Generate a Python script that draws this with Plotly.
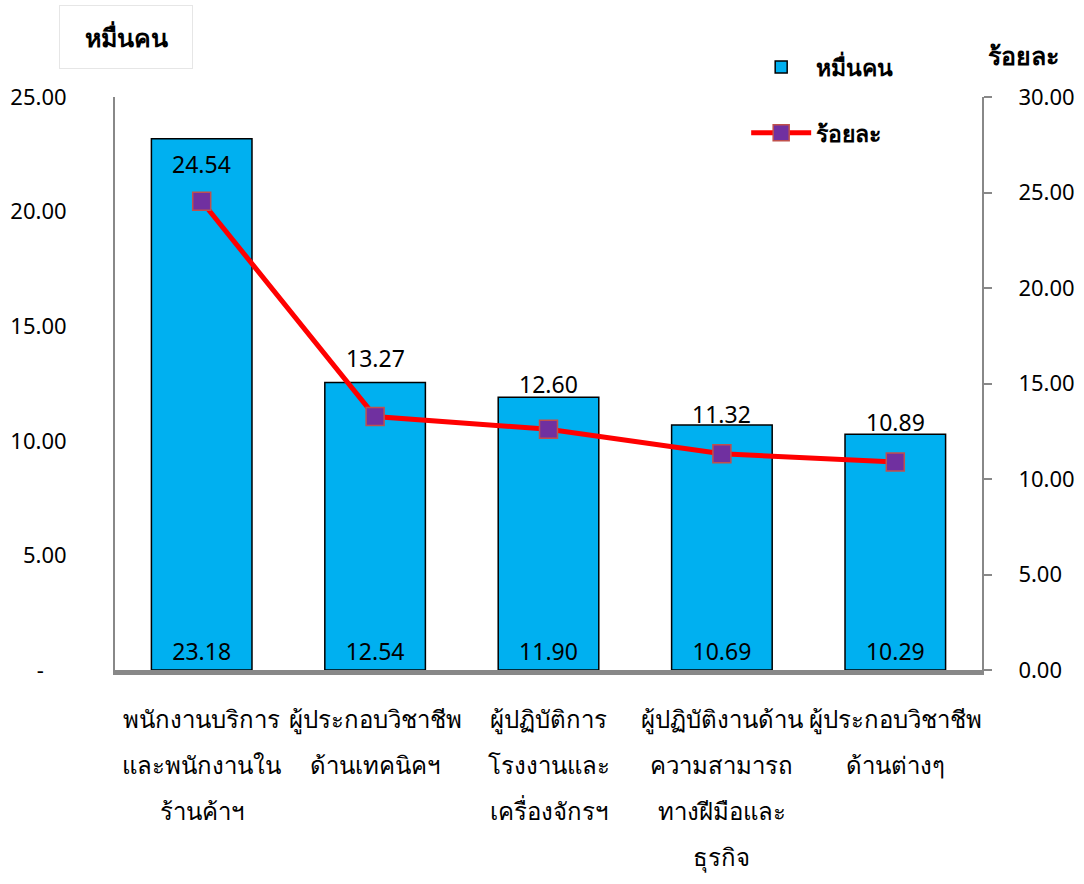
import plotly.graph_objects as go

categories = [
    "พนักงานบริการ|และพนักงานใน|ร้านค้าฯ",
    "ผู้ประกอบวิชาชีพ|ด้านเทคนิคฯ",
    "ผู้ปฏิบัติการ|โรงงานและ|เครื่องจักรฯ",
    "ผู้ปฏิบัติงานด้าน|ความสามารถ|ทางฝีมือและ|ธุรกิจ",
    "ผู้ประกอบวิชาชีพ|ด้านต่างๆ",
]
persons_10k = [23.18, 12.54, 11.90, 10.69, 10.29]
percent = [24.54, 13.27, 12.60, 11.32, 10.89]
left_ticks = [0, 5, 10, 15, 20, 25]
left_ticktext = ["-    ", "5.00", "10.00", "15.00", "20.00", "25.00"]
right_ticks = [0, 5, 10, 15, 20, 25, 30]
right_ticktext = ["0.00", "5.00", "10.00", "15.00", "20.00", "25.00", "30.00"]
pct_label_shift = [37, 59, 45, 40, 40]

x = list(range(len(categories)))
FONT = "Noto Sans, DejaVu Sans, sans-serif"

fig = go.Figure()
fig.add_trace(go.Bar(
    x=x, y=persons_10k, name="<b>หมื่นคน</b>", legendgroup="a",
    marker=dict(color="#00B0F0", line=dict(color="black", width=1.5)),
    width=0.58,
    text=[f"{v:.2f}" for v in persons_10k], textposition="inside",
    insidetextanchor="start", textfont=dict(size=23, color="black", family=FONT),
    hoverinfo="skip",
))
fig.add_trace(go.Scatter(
    x=x, y=percent, name="<b>ร้อยละ</b>", yaxis="y2", mode="lines+markers",
    legendgroup="b",
    line=dict(color="#FF0000", width=5),
    marker=dict(symbol="square", size=18, color="#7030A0",
                line=dict(color="#C0504D", width=1.5)),
))

annotations = []
for i, v in enumerate(percent):
    annotations.append(dict(x=i, y=v, xref="x", yref="y2", text=f"{v:.2f}",
                            showarrow=False, yshift=pct_label_shift[i],
                            font=dict(size=23, color="black", family=FONT)))
for i, c in enumerate(categories):
    for j, line in enumerate(c.split("|")):
        annotations.append(dict(x=i, y=0, xref="x", yref="paper", text=line,
                                showarrow=False, yanchor="middle",
                                yshift=-48 - 46 * j,
                                font=dict(size=24, color="black", family=FONT)))
annotations.append(dict(x=0.0127, y=1.105, xref="paper", yref="paper",
                        xanchor="center", yanchor="middle",
                        text="<b>หมื่นคน</b>", showarrow=False,
                        width=130, height=60, bordercolor="#e6e6e6", borderwidth=1,
                        font=dict(size=25, color="black", family=FONT)))
annotations.append(dict(x=1.048, y=1.073, xref="paper", yref="paper",
                        xanchor="center", yanchor="middle",
                        text="<b>ร้อยละ</b>", showarrow=False,
                        font=dict(size=25, color="black", family=FONT)))

fig.update_layout(
    width=1084, height=884,
    margin=dict(l=115, r=102, t=97, b=214, autoexpand=False),
    paper_bgcolor="white", plot_bgcolor="white",
    font=dict(family=FONT, size=22, color="black"),
    showlegend=True,
    legend=dict(x=0.728, y=1.09, xanchor="left", yanchor="top",
                font=dict(size=23, family=FONT), itemwidth=60,
                bgcolor="rgba(0,0,0,0)", tracegroupgap=33),
    xaxis=dict(range=[-0.5, 4.5], showticklabels=False, ticks="",
               showline=True, linecolor="#888888", linewidth=5,
               showgrid=False, zeroline=False, tickvals=x, automargin=False),
    yaxis=dict(range=[0, 25], tickvals=left_ticks, ticktext=left_ticktext,
               showline=True, linecolor="#888888", linewidth=2, ticks="",
               showgrid=False, zeroline=False, ticklabelstandoff=42,
               automargin=False, tickfont=dict(size=22, family=FONT)),
    yaxis2=dict(range=[0, 30], overlaying="y", side="right",
                tickvals=right_ticks, ticktext=right_ticktext,
                showline=True, linecolor="#888888", linewidth=2,
                ticks="outside", ticklen=8, tickwidth=2, tickcolor="#888888",
                showgrid=False, zeroline=False, ticklabelstandoff=22,
                automargin=False, tickfont=dict(size=22, family=FONT)),
    annotations=annotations,
)
fig.write_html("out.html", config={"displayModeBar": False},
               post_script="document.body.style.margin='0px';document.body.style.overflow='hidden';")
